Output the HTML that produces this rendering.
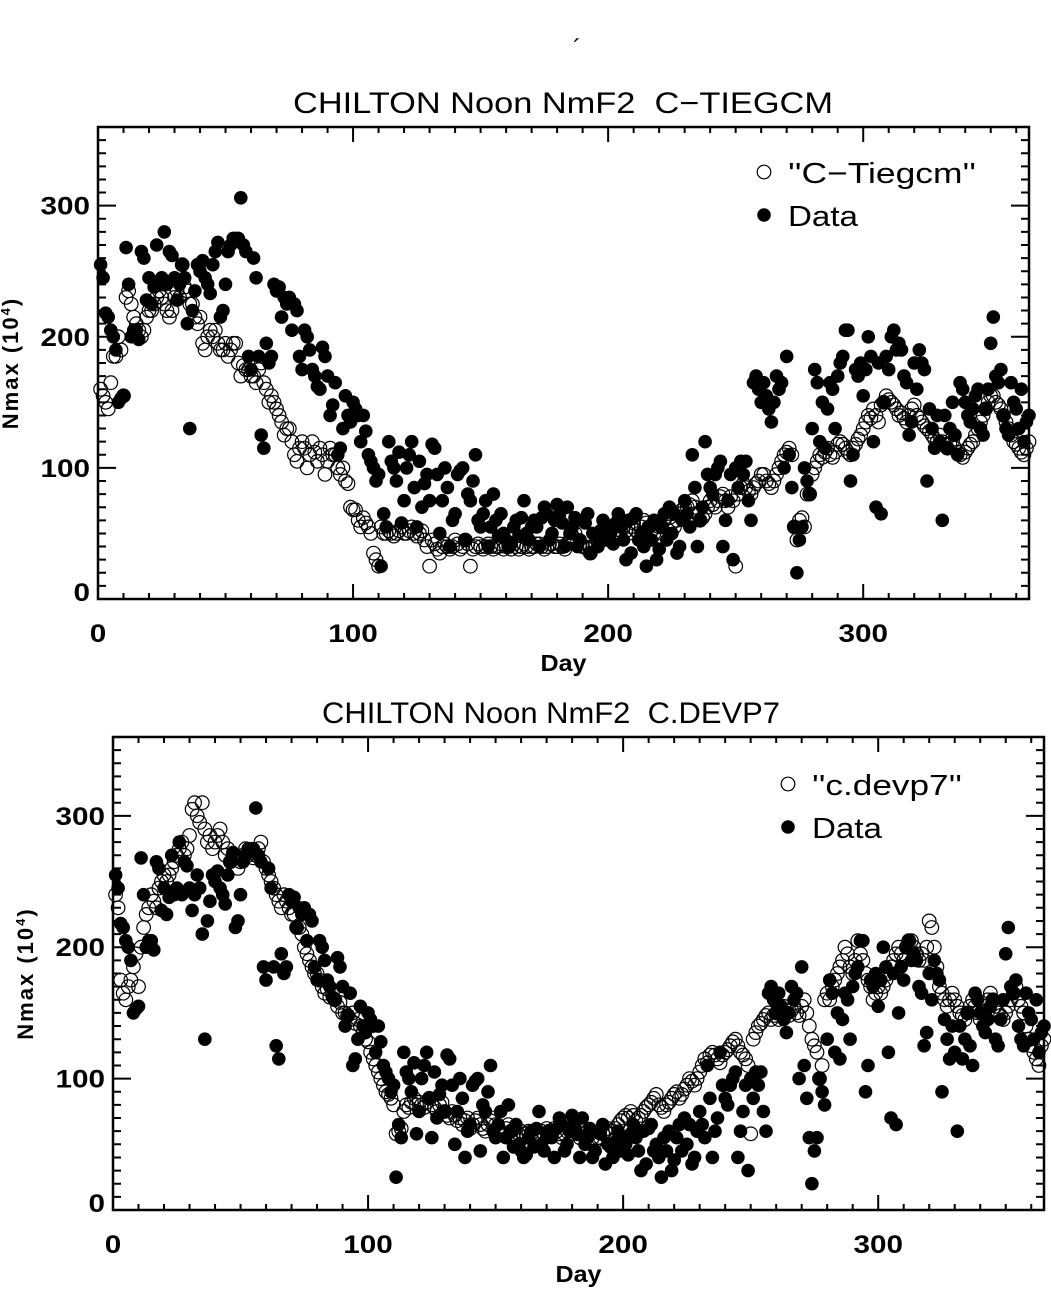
<!DOCTYPE html>
<html><head><meta charset="utf-8">
<style>
html,body{margin:0;padding:0;background:#fff;}
svg{display:block;}
text{font-family:"Liberation Sans",sans-serif;fill:#000;white-space:pre;}
</style></head>
<body>
<svg id="chart" width="1051" height="1300" viewBox="0 0 1051 1300" xmlns="http://www.w3.org/2000/svg">
<text x="573" y="56" font-size="24">´</text>
</svg>
<script>
const dayTicks=[0,100,200,300];
const valTicks=[0,100,200,300];
const dataVals=[255,245,218,215,205,200,190,150,153,155,268,240,200,205,205,198,265,260,228,245,225,238,270,240,245,280,240,265,262,245,228,240,255,245,210,130,220,235,255,250,258,245,240,233,255,265,272,215,220,240,265,270,275,275,275,306,270,265,185,175,260,245,185,125,115,195,180,185,240,235,238,215,230,225,230,205,225,220,185,175,205,200,190,175,170,162,160,192,185,170,140,148,165,110,115,130,155,140,135,150,145,140,120,140,128,110,105,100,90,95,25,65,55,120,105,100,90,112,58,75,100,110,120,85,55,105,70,88,95,75,118,115,95,50,75,100,85,40,60,65,95,98,100,45,80,75,90,110,60,55,65,75,40,55,80,60,48,65,50,45,40,42,55,60,48,62,75,50,45,55,60,55,40,62,70,65,45,50,60,72,65,58,40,70,50,55,62,40,45,60,58,65,35,50,48,40,52,60,45,55,50,42,58,65,55,45,30,60,35,62,65,45,50,40,25,55,45,60,30,38,55,65,45,70,50,65,35,40,60,75,65,55,110,85,40,60,70,120,95,85,80,95,100,105,40,60,75,95,30,100,85,105,95,105,75,60,165,170,160,150,165,155,145,135,150,170,160,165,100,185,110,85,55,20,45,55,100,90,80,130,175,165,120,150,115,145,165,160,130,170,180,185,205,205,90,110,175,170,180,155,175,200,185,120,70,180,65,150,185,175,200,205,190,195,190,170,165,125,135,180,160,190,180,175,90,145,130,115,140,120,60,140,115,130,150,125,110,165,160,150,140,135,145,155,160,130,125,145,160,195,215,170,165,175,140,130,125,165,150,145,130,160,120,135,140];
const tiegcmVals=[160,155,150,145,165,185,185,200,190,155,230,235,225,215,210,205,200,205,215,220,220,225,230,235,230,225,220,215,220,230,235,230,255,238,235,225,225,215,210,215,195,190,200,205,200,205,195,190,190,195,185,190,195,195,180,170,178,175,175,170,170,165,175,180,165,160,150,155,150,145,140,135,125,130,130,120,110,105,115,120,115,100,110,120,112,105,115,110,95,105,115,110,110,100,95,100,90,88,70,68,68,60,55,62,58,55,50,35,30,25,55,50,50,52,50,48,50,52,55,50,50,52,55,50,48,50,52,45,40,25,45,42,38,35,40,42,40,38,40,45,42,38,40,45,42,25,38,40,42,40,38,40,42,40,38,40,40,42,38,40,40,38,42,40,38,40,42,40,38,40,40,42,42,40,38,40,42,42,40,40,42,40,38,42,45,48,50,45,42,40,40,38,35,40,42,45,48,50,52,55,55,50,48,50,52,55,52,50,55,58,52,50,55,60,58,55,52,50,50,55,55,60,65,62,58,55,60,65,68,70,70,72,75,70,65,60,62,65,70,75,72,70,75,78,80,75,70,78,75,25,80,85,88,85,82,80,85,88,90,95,95,90,88,85,90,95,100,105,110,112,115,110,55,45,60,62,55,80,80,95,100,105,110,108,112,115,110,108,112,118,120,118,115,112,110,115,118,122,125,130,135,140,138,145,140,135,148,150,155,152,150,148,145,140,142,138,135,140,145,148,140,138,135,132,130,128,125,122,120,125,120,118,115,118,120,115,112,110,108,112,115,118,120,125,130,135,140,145,150,155,155,150,148,145,140,135,130,125,120,118,115,112,110,115,120];
const devp7Vals=[240,230,175,165,160,170,175,185,195,170,200,215,225,230,240,235,230,245,250,255,250,255,260,265,270,275,280,270,275,285,305,310,300,295,310,290,280,285,275,280,285,290,280,270,275,265,270,270,260,265,270,275,270,272,268,270,275,280,265,260,255,250,245,240,235,230,240,235,230,225,225,215,215,210,200,195,190,185,180,180,175,170,165,168,162,165,160,155,158,150,150,148,145,150,142,145,140,135,130,128,120,115,110,105,100,95,90,88,85,80,58,60,62,75,80,78,82,85,80,82,80,78,82,85,80,78,75,80,82,75,72,70,75,72,68,70,65,68,70,62,65,68,70,65,62,60,65,68,70,65,62,60,58,62,65,60,58,55,58,60,55,58,60,58,56,55,58,60,58,62,60,58,62,60,58,55,58,60,62,58,60,58,55,58,62,60,58,55,52,55,55,58,60,62,60,58,62,65,68,70,72,70,75,72,68,70,72,75,78,80,82,85,88,80,78,75,80,82,85,88,90,85,88,92,95,100,98,95,100,105,110,115,112,118,120,118,115,112,118,120,122,125,128,130,125,120,118,115,110,58,130,135,140,142,145,148,150,145,148,150,145,150,155,150,148,152,155,150,148,155,160,150,140,130,125,120,100,110,160,165,160,170,175,180,185,190,200,195,185,180,190,205,195,190,180,175,170,160,165,170,165,170,175,180,185,190,195,200,195,190,200,205,205,200,195,190,195,190,200,220,215,200,185,170,165,160,155,160,165,160,155,150,148,145,150,155,160,155,150,145,150,155,160,165,160,155,150,148,145,150,155,160,165,170,160,155,150,140,130,125,120,115,110,125,130];

const NS='http://www.w3.org/2000/svg';
const svg=document.getElementById('chart');
function mk(tag,attrs,parent){const e=document.createElementNS(NS,tag);for(const k in attrs)e.setAttribute(k,attrs[k]);(parent||svg).appendChild(e);return e;}

function panel(p){
  const g=mk('g',{});
  
  
  const L=p.left,T=p.top,R=p.right,B=p.bottom;
  const xs=d=>L+d*(R-L)/365;
  const ys=v=>B-v*(B-T)/360;
  const og=mk('g',{},g);
  
  
  p.model.forEach((v,i)=>{const c=mk('circle',{cx:xs(i+1).toFixed(1),cy:ys(v).toFixed(1),r:6.8,fill:'none',stroke:'#000','stroke-width':1.2},og);
    
    });
  const dg=mk('g',{},g);
  
  
  dataVals.forEach((v,i)=>{const c=mk('circle',{cx:xs(i+1).toFixed(1),cy:ys(v).toFixed(1),r:6.8,fill:'#000'},dg);
    
    });
  const fr=mk('rect',{x:L,y:T,width:R-L,height:B-T,fill:'none',stroke:'#000','stroke-width':2.5},g);
  
  
  let tp='';
  for(let d=0;d<=360;d+=10){const x=xs(d);const len=d%100===0?15:6;tp+=`M${x} ${B}v${-len}M${x} ${T}v${len}`;}
  for(let v=0;v<=360;v+=10){const y=ys(v);const len=v%100===0?18:8;tp+=`M${L} ${y}h${len}M${R} ${y}h${-len}`;}
  const tk=mk('path',{d:tp,stroke:'#000','stroke-width':2},g);
  
  
  dayTicks.forEach(d=>{const w=String(d).length*16.5;const t=mk('text',{x:xs(d)-w/2,y:B+43,'font-size':25,'font-weight':'bold',textLength:w,lengthAdjust:'spacingAndGlyphs'},g);t.textContent=d;
    
    });
  valTicks.forEach(v=>{const w=String(v).length*16.5;const t=mk('text',{x:L-8-w,y:Math.min(ys(v)+9,B+2),'font-size':25,'font-weight':'bold',textLength:w,lengthAdjust:'spacingAndGlyphs'},g);t.textContent=v;
    
    });
  const xt=mk('text',{x:(L+R)/2-23,y:B+72,'font-size':23,'font-weight':'bold',textLength:46,lengthAdjust:'spacingAndGlyphs'},g);xt.textContent='Day';
  
  
  const yt=mk('text',{x:0,y:0,'font-size':22,'font-weight':'bold','text-anchor':'middle','letter-spacing':2,transform:`translate(${p.ylx},${(T+B)/2}) rotate(-90)`},g);
  yt.innerHTML='Nmax (10<tspan font-size="13" dy="-8">4</tspan><tspan dy="8">)</tspan>';
  
  
  const ti=mk('text',{x:p.tx,y:T-14,'font-size':30,textLength:p.tw,lengthAdjust:'spacingAndGlyphs'},g);ti.textContent=p.title;
  
  
  const lg=mk('g',{},g);
  
  
  const c1=mk('circle',{cx:p.lx,cy:p.ly,r:6.8,fill:'none',stroke:'#000','stroke-width':1.2},lg);
  
  
  const t1=mk('text',{x:p.lx+24,y:p.ly+11,'font-size':29,textLength:p.lw,lengthAdjust:'spacingAndGlyphs'},lg);t1.textContent=p.legend;
  
  
  const c2=mk('circle',{cx:p.lx,cy:p.ly+43,r:6.8,fill:'#000'},lg);
  
  
  const t2=mk('text',{x:p.lx+24,y:p.ly+54,'font-size':29,textLength:70,lengthAdjust:'spacingAndGlyphs'},lg);t2.textContent='Data';
  
  
}
panel({name:'top-panel-ctiegcm',modelKey:'ctiegcm',model:tiegcmVals,left:98,top:127,right:1029,bottom:599,title:'CHILTON Noon NmF2  C\u2212TIEGCM',tx:293,tw:540,legend:"''C\u2212Tiegcm''",lw:188,lx:764,ly:172,ylx:18});
panel({name:'bottom-panel-devp7',modelKey:'devp7',model:devp7Vals,left:113,top:737,right:1044,bottom:1210,title:'CHILTON Noon NmF2  C.DEVP7',tx:322,tw:458,legend:"''c.devp7''",lw:150,lx:788,ly:784,ylx:33});
</script>
</body></html>
